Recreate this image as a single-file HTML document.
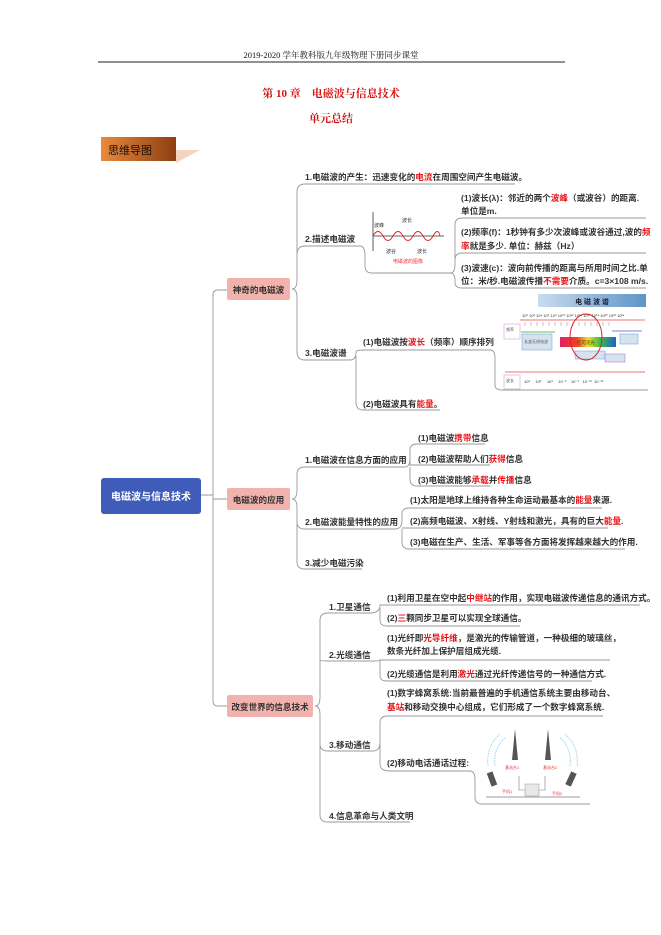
<!DOCTYPE html>
<html><head><meta charset="utf-8"><style>
html,body{margin:0;padding:0;background:#fff;width:661px;height:935px;overflow:hidden}
svg{display:block}
text{font-family:"Liberation Sans","Noto Sans CJK SC",sans-serif;}
.t{font-size:8.6px;fill:#333;font-weight:bold}
.r{fill:#e8141a}
.ln{fill:none;stroke:#999;stroke-width:0.9}
.s{font-size:5px;fill:#333}
</style></head><body>
<svg width="661" height="935" viewBox="0 0 661 935">
<defs>
<linearGradient id="og" x1="0" x2="1"><stop offset="0" stop-color="#e98a3a"/><stop offset="1" stop-color="#8e3e14"/></linearGradient>
<linearGradient id="sp" x1="0" x2="1"><stop offset="0" stop-color="#c9dcef"/><stop offset="1" stop-color="#5f94c8"/></linearGradient>
<linearGradient id="rb" x1="0" x2="1"><stop offset="0" stop-color="#e0206a"/><stop offset=".3" stop-color="#f04020"/><stop offset=".5" stop-color="#f8e020"/><stop offset=".7" stop-color="#40c040"/><stop offset="1" stop-color="#2060d0"/></linearGradient>
</defs>
<text x="331" y="58" text-anchor="middle" font-size="8.5" fill="#111" style="font-family:'Liberation Serif','Noto Serif CJK SC',serif">2019-2020 学年教科版九年级物理下册同步课堂</text>
<line x1="98" y1="62" x2="565" y2="62" stroke="#222" stroke-width="0.9"/>
<text x="331" y="97" text-anchor="middle" font-size="11" font-weight="bold" fill="#d81010" style="font-family:'Liberation Serif','Noto Serif CJK SC',serif">第 10 章&#160;&#160;&#160;&#160;电磁波与信息技术</text>
<text x="331" y="122" text-anchor="middle" font-size="11" font-weight="bold" fill="#d81010" style="font-family:'Liberation Serif','Noto Serif CJK SC',serif">单元总结</text>
<polygon points="176,150 200,150 176,163" fill="#f5d3c0"/>
<rect x="101" y="137" width="75" height="24" fill="url(#og)"/>
<text x="108" y="154" font-size="11" fill="#111">思维导图</text>

<rect x="101" y="478" width="100" height="36" rx="3" fill="#3f5cb8"/>
<text x="151" y="500" text-anchor="middle" font-size="10" fill="#fff" font-weight="bold">电磁波与信息技术</text>
<path class="ln" d="M201,495 H213 M227,290 H218 Q213,290 213,295 V701 Q213,706 218,706 H227 M213,499 H227"/>
<rect x="227" y="278" width="63" height="22" rx="2" fill="#f2b3ae"/>
<text x="258.5" y="293" text-anchor="middle" class="t">神奇的电磁波</text>
<rect x="227" y="488" width="63" height="22" rx="2" fill="#f2b3ae"/>
<text x="258.5" y="503" text-anchor="middle" class="t">电磁波的应用</text>
<rect x="227" y="695" width="86" height="22" rx="2" fill="#f2b3ae"/>
<text x="270" y="710" text-anchor="middle" class="t">改变世界的信息技术</text>

<path class="ln" d="M292,289 Q297,289 297,280 V192 Q297,184 305,184 H515"/>
<path class="ln" d="M292,289 Q297,289 297,298 V352 Q297,360 305,360 H350"/>
<path class="ln" d="M297,255 Q297,246 305,246 H360 Q365,246 365,256 V266 Q365,273 372,273 H450"/>
<text x="305" y="180" class="t">1.电磁波的产生：迅速变化的<tspan class="r">电流</tspan>在周围空间产生电磁波。</text>
<text x="305" y="242" class="t">2.描述电磁波</text>
<text x="305" y="356" class="t">3.电磁波谱</text>
<line x1="373" y1="212" x2="373" y2="251" stroke="#333" stroke-width="0.8"/>
<line x1="373" y1="236" x2="444" y2="236" stroke="#333" stroke-width="0.8"/>
<path d="M373,236 q5,-9 10,0 t10,0 t10,0 t10,0 t10,0 t10,0 t7,0" fill="none" stroke="#d22" stroke-width="0.9"/>
<text x="374" y="227" class="s">波峰</text><text x="402" y="222" class="s">波长</text>
<text x="386" y="253" class="s">波谷</text><text x="417" y="253" class="s">波长</text>
<text x="393" y="263" class="s" style="fill:#e33">电磁波的图像</text>
<path class="ln" d="M450,273 Q455,273 455,265 V225 Q455,218 462,218 H646 M455,265 V260 Q455,253 462,253 H646 M450,273 Q455,273 455,280 V282 Q455,288 462,288 H646"/>
<text x="461" y="201" class="t">(1)波长(λ)：邻近的两个<tspan class="r">波峰</tspan>（或波谷）的距离.</text>
<text x="461" y="214" class="t">单位是m.</text>
<text x="461" y="235" class="t">(2)频率(f)：1秒钟有多少次波峰或波谷通过,波的<tspan class="r">频</tspan></text>
<text x="461" y="249" class="t"><tspan class="r">率</tspan>就是多少. 单位：赫兹（Hz）</text>
<text x="461" y="271" class="t">(3)波速(c)：波向前传播的距离与所用时间之比.单</text>
<text x="461" y="284" class="t">位：米/秒.电磁波传播<tspan class="r">不需要</tspan>介质。c=3×108 m/s.</text>
<path class="ln" d="M350,360 Q356,360 356,352 Q356,350 363,350 H490 Q495,350 495,358 V385 Q495,390 502,390 H648 M356,356 V402 Q356,410 363,410 H440"/>
<text x="363" y="345" class="t">(1)电磁波按<tspan class="r">波长</tspan>（频率）顺序排列</text>
<text x="363" y="407" class="t">(2)电磁波具有<tspan class="r">能量</tspan>。</text>
<rect x="538" y="294" width="108" height="13" fill="url(#sp)"/>
<text x="592" y="304" text-anchor="middle" font-size="7" fill="#223" font-weight="bold">电 磁 波 谱</text>
<line x1="520" y1="320" x2="645" y2="320" stroke="#e44" stroke-width="0.8"/>
<path d="M525,322v4M531,322v4M537,322v4M543,322v4M549,322v4M555,322v4M561,322v4M567,322v4M573,322v4M579,322v4M585,322v4M591,322v4M597,322v4M603,322v4M609,322v4" stroke="#888" stroke-width=".5"/>
<text x="522" y="317" font-size="4" fill="#333">10⁰ 10² 10⁴ 10⁶ 10⁸ 10¹⁰ 10¹² 10¹⁴ 10¹⁶ 10¹⁸ 10²⁰ 10²² 10²⁴</text>
<rect x="504" y="324" width="16" height="15" fill="none" stroke="#c8c" stroke-width=".5"/>
<text x="506" y="331" font-size="4" fill="#555">频率</text>
<line x1="521" y1="332" x2="555" y2="332" stroke="#3a3" stroke-width=".8"/>
<rect x="522" y="334" width="30" height="16" fill="#d5e3f1" stroke="#6b9ac8" stroke-width=".5"/>
<text x="524" y="343" font-size="4" fill="#555">长波无线电波</text>
<rect x="560" y="337" width="56" height="10" fill="url(#rb)"/>
<text x="577" y="344" font-size="4.5" fill="#333">红可见光</text>
<line x1="612" y1="331" x2="642" y2="331" stroke="#55c" stroke-width=".8"/>
<rect x="575" y="351" width="30" height="8" fill="#d5e3f1" stroke="#6b9ac8" stroke-width=".5"/>
<rect x="605" y="354" width="20" height="8" fill="#d5e3f1" stroke="#a6c" stroke-width=".5"/>
<rect x="620" y="334" width="18" height="10" fill="#d5e3f1" stroke="#6b9ac8" stroke-width=".5"/>
<ellipse cx="586" cy="337" rx="16" ry="23" fill="none" stroke="#d22" stroke-width="1"/>
<line x1="505" y1="372" x2="645" y2="372" stroke="#e44" stroke-width="0.8"/>
<rect x="504" y="375" width="16" height="14" fill="none" stroke="#c8c" stroke-width=".5"/>
<text x="506" y="382" font-size="4" fill="#555">波长</text>
<text x="524" y="383" font-size="4" fill="#333">10³&#160;&#160;&#160;&#160;&#160;10⁰&#160;&#160;&#160;&#160;&#160;10³&#160;&#160;&#160;&#160;&#160;10⁻⁶&#160;&#160;&#160;&#160;10⁻⁹&#160;&#160;&#160;10⁻¹²&#160;&#160;10⁻¹⁵</text>

<path class="ln" d="M292,499 Q297,499 297,490 V474 Q297,467 305,467 H405 M292,499 Q297,499 297,508 V522 Q297,529 305,529 H395 M297,520 V562 Q297,569 305,569 H362"/>
<text x="305" y="463" class="t">1.电磁波在信息方面的应用</text>
<text x="305" y="525" class="t">2.电磁波能量特性的应用</text>
<text x="305" y="566" class="t">3.减少电磁污染</text>
<path class="ln" d="M405,467 Q410,467 410,458 V450 Q410,444 417,444 H485 M410,458 V465 H490 M410,467 V479 Q410,486 417,486 H490"/>
<text x="418" y="441" class="t">(1)电磁波<tspan class="r">携带</tspan>信息</text>
<text x="418" y="462" class="t">(2)电磁波帮助人们<tspan class="r">获得</tspan>信息</text>
<text x="418" y="483" class="t">(3)电磁波能够<tspan class="r">承载</tspan>并<tspan class="r">传播</tspan>信息</text>
<path class="ln" d="M395,529 Q402,529 402,520 V514 Q402,508 409,508 H602 M402,528 H608 M402,529 V542 Q402,549 409,549 H625"/>
<text x="410" y="503" class="t">(1)太阳是地球上维持各种生命运动最基本的<tspan class="r">能量</tspan>来源.</text>
<text x="410" y="524" class="t">(2)高频电磁波、X射线、Y射线和激光，具有的巨大<tspan class="r">能量</tspan>.</text>
<text x="410" y="545" class="t">(3)电磁在生产、生活、军事等各方面将发挥越来越大的作用.</text>

<path class="ln" d="M315,706 Q320,706 320,697 V620 Q320,613 328,613 H370 M320,660 Q320,661 328,661 H373 M315,706 Q320,706 320,715 V744 Q320,751 328,751 H373 M320,744 V815 Q320,822 328,822 H410"/>
<text x="329" y="610" class="t">1.卫星通信</text>
<text x="329" y="658" class="t">2.光缆通信</text>
<text x="329" y="748" class="t">3.移动通信</text>
<text x="329" y="819" class="t">4.信息革命与人类文明</text>
<path class="ln" d="M370,613 Q380,613 380,605 H640 M380,608 V620 Q380,626 387,626 H520"/>
<text x="387" y="601" class="t">(1)利用卫星在空中起<tspan class="r">中继站</tspan>的作用，实现电磁波传递信息的通讯方式。</text>
<text x="387" y="621" class="t">(2)<tspan class="r">三</tspan>颗同步卫星可以实现全球通信。</text>
<path class="ln" d="M373,661 Q380,661 380,660 H610 M380,660 V676 Q380,681 387,681 H592"/>
<text x="387" y="641" class="t">(1)光纤即<tspan class="r">光导纤维</tspan>，是激光的传输管道，一种极细的玻璃丝，</text>
<text x="387" y="654" class="t">数条光纤加上保护层组成光缆.</text>
<text x="387" y="677" class="t">(2)光缆通信是利用<tspan class="r">激光</tspan>通过光纤传递信号的一种通信方式.</text>
<path class="ln" d="M373,751 Q380,751 380,742 V723 Q380,716 387,716 H603 M380,742 V764 Q380,771 390,771 H470 Q475,771 475,780 V797 Q475,804 482,804 H590"/>
<text x="387" y="696" class="t">(1)数字蜂窝系统:当前最普遍的手机通信系统主要由移动台、</text>
<text x="387" y="710" class="t"><tspan class="r">基站</tspan>和移动交换中心组成，它们形成了一个数字蜂窝系统.</text>
<text x="387" y="766" class="t">(2)移动电话通话过程:</text>
<line x1="486" y1="797" x2="580" y2="797" stroke="#99a" stroke-width="1"/>
<path d="M515,729 L518,760 L512,760 Z M548,729 L551,760 L545,760 Z" fill="#555"/>
<path d="M519,776 V790 H526 M545,776 V790 H538" fill="none" stroke="#777" stroke-width=".6"/>
<rect x="525" y="784" width="14" height="12" fill="#e8e8e8" stroke="#999" stroke-width=".5"/>
<rect x="489" y="772" width="6" height="14" fill="#555" transform="rotate(-20 492 779)"/>
<rect x="568" y="772" width="6" height="14" fill="#555" transform="rotate(25 571 779)"/>
<path d="M505,738 q-12,10 -10,28 M500,734 q-14,12 -12,32 M560,738 q12,10 10,28 M565,734 q14,12 12,32" fill="none" stroke="#8cc8e0" stroke-width=".8" stroke-dasharray="1.5 1"/>
<text x="505" y="769" font-size="4" fill="#e33">基站台1</text>
<text x="543" y="769" font-size="4" fill="#e33">基站台2</text>
<text x="502" y="793" font-size="4" fill="#e33">手机1</text>
<text x="552" y="795" font-size="4" fill="#e33">手机2</text>
</svg>
</body></html>
